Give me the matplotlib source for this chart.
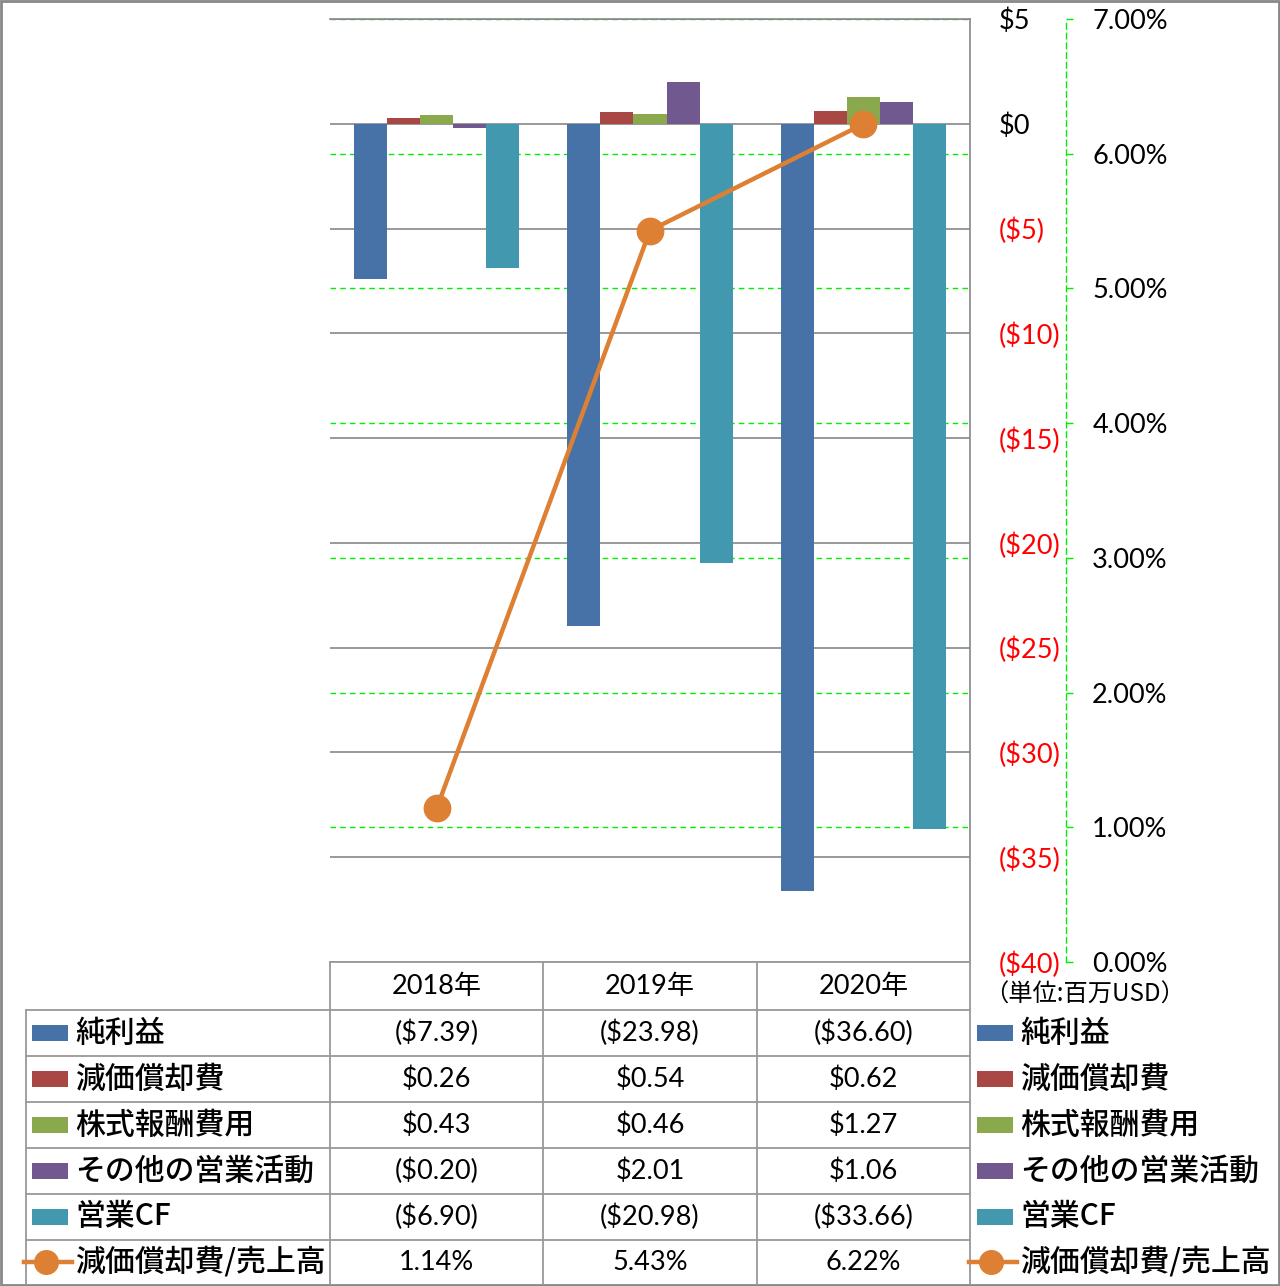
import matplotlib
matplotlib.use("Agg")
import matplotlib.pyplot as plt
import numpy as np
from matplotlib.lines import Line2D
from matplotlib.patches import Rectangle

# ---------------- data ----------------
years = ["2018年", "2019年", "2020年"]
series_names = ["純利益", "減価償却費", "株式報酬費用", "その他の営業活動", "営業CF"]
net_income = [-7.39, -23.98, -36.60]
depreciation = [0.26, 0.54, 0.62]
stock_comp = [0.43, 0.46, 1.27]
other_ops = [-0.20, 2.01, 1.06]
operating_cf = [-6.90, -20.98, -33.66]
ratio_name = "減価償却費/売上高"
dep_ratio = [1.14, 5.43, 6.22]
unit_label = "（単位:百万USD）"
usd_ticks = [5, 0, -5, -10, -15, -20, -25, -30, -35, -40]
pct_ticks = [0, 1, 2, 3, 4, 5, 6, 7]

bar_series = [net_income, depreciation, stock_comp, other_ops, operating_cf]
colors = ["#4672A8", "#A94744", "#8AA84C", "#71588F", "#4298AF"]
line_color = "#DD8033"

# ---------------- figure ----------------
W, H = 1280, 1286
fig = plt.figure(figsize=(W / 100, H / 100), dpi=100)
fig.patch.set_facecolor("white")
FONT = ["Lato", "Noto Sans CJK JP", "DejaVu Sans"]
JFONT = ["Noto Sans CJK JP", "DejaVu Sans"]
plt.rcParams["font.family"] = FONT
NUM_FS = 19.5
JP_FS = 21.5


def fx(x):
    return x / W


def fy(y):
    return 1 - y / H


# plot area
L, R, T, B = 330, 970, 19, 962
rect = [fx(L), fy(B), fx(R) - fx(L), fy(T) - fy(B)]
ax = fig.add_axes(rect)
ax_p = ax.twinx()
ax_p.set_zorder(ax.get_zorder() - 1)
ax.patch.set_visible(False)
ax_l = ax.twinx()

x = np.arange(len(years))
bw = 0.155
for i, (vals, c) in enumerate(zip(bar_series, colors)):
    ax.bar(x + (i - 2) * bw, vals, width=bw, color=c, zorder=3, linewidth=0)

ax.set_xlim(-0.5, len(years) - 0.5)
ax.set_ylim(-40, 5)
ax.yaxis.tick_right()
ax.tick_params(axis="y", length=0, pad=21, labelsize=NUM_FS)
ax.set_yticks(usd_ticks,
              labels=[f"${v}" if v >= 0 else f"(${-v})" for v in usd_ticks])
for lab, v in zip(ax.get_yticklabels(), usd_ticks):
    lab.set_color("black" if v >= 0 else "#FF0000")
ax.set_xticks([])
ax.grid(axis="y", color="#888888", linewidth=1.2)
ax.set_axisbelow(True)
for s in ["left", "bottom"]:
    ax.spines[s].set_visible(False)
for s in ["right", "top"]:
    ax.spines[s].set_color("#888888")
    ax.spines[s].set_linewidth(1.2)

# percent axis
ax_p.set_ylim(0, 7)
ax_p.set_yticks(pct_ticks, labels=[f"{v:.2f}%" for v in pct_ticks])
ax_p.tick_params(axis="y", direction="out", length=5, width=1, color="#00EE00",
                 pad=14, labelsize=NUM_FS)
ax_p.grid(axis="y", color="#00EE00", linewidth=1, linestyle=(0, (4, 3)))
for s in ["top", "left", "bottom"]:
    ax_p.spines[s].set_visible(False)
ax_p.spines["right"].set_position(("outward", 69))
ax_p.spines["right"].set_color("#00EE00")
ax_p.spines["right"].set_linestyle((0, (4, 3)))
ax_p.spines["right"].set_linewidth(1)
ax_p.set_xticks([])

# line axis
ax_l.set_ylim(0, 7)
ax_l.plot(x, dep_ratio, color=line_color, linewidth=3.2, marker="o",
          markersize=19, markerfacecolor=line_color, markeredgecolor=line_color,
          zorder=5, clip_on=False)
ax_l.set_axis_off()

# ---------------- data table ----------------
grid_c = "#999999"


def hline(y, x0, x1, lw=1.3, c=grid_c):
    fig.add_artist(Line2D([fx(x0), fx(x1)], [fy(y), fy(y)], color=c, lw=lw,
                          transform=fig.transFigure))


def vline(xp, y0, y1, lw=1.3, c=grid_c):
    fig.add_artist(Line2D([fx(xp), fx(xp)], [fy(y0), fy(y1)], color=c, lw=lw,
                          transform=fig.transFigure))


col_edges = [330, 543, 757, 970]
row_edges = [1010, 1056, 1102, 1148, 1194, 1240, 1284]
hline(962, 330, 970)
for y in row_edges[:-1]:
    hline(y, 26, 970)
for xe in col_edges:
    vline(xe, 962, 1284)
vline(26, 1010, 1284)

col_centers = [(col_edges[i] + col_edges[i + 1]) / 2 for i in range(3)]
for cx, yr in zip(col_centers, years):
    fig.text(fx(cx), fy(986), yr, ha="center", va="center", fontsize=NUM_FS,
             family=FONT)


def fmt_usd(v):
    return f"${v:.2f}" if v >= 0 else f"(${-v:.2f})"


row_centers = [(row_edges[i] + row_edges[i + 1]) / 2 for i in range(6)]
all_names = series_names + [ratio_name]
for r, (name, yc) in enumerate(zip(all_names, row_centers)):
    if r < 5:
        vals = [fmt_usd(v) for v in bar_series[r]]
    else:
        vals = [f"{v:.2f}%" for v in dep_ratio]
    for cx, s in zip(col_centers, vals):
        fig.text(fx(cx), fy(yc), s, ha="center", va="center", fontsize=NUM_FS,
                 family=FONT)
    # legend keys in table and at right
    for kx0, tx in [(32, 75), (977, 1020)]:
        if r < 5:
            fig.add_artist(Rectangle((fx(kx0), fy(yc + 8)), fx(36), 16 / H,
                                     color=colors[r], transform=fig.transFigure,
                                     lw=0))
        else:
            fig.add_artist(Line2D([fx(kx0 - 8), fx(kx0 + 40)], [fy(yc), fy(yc)],
                                  color=line_color, lw=3.2, marker=None,
                                  transform=fig.transFigure))
            fig.add_artist(Line2D([fx(kx0 + 14)], [fy(yc)], color=line_color,
                                  marker="o", markersize=17,
                                  transform=fig.transFigure))
        fig.text(fx(tx), fy(yc), name, ha="left", va="center", fontsize=JP_FS,
                 family=JFONT, fontweight="medium")

fig.text(fx(1085), fy(995), unit_label, ha="center", va="center", fontsize=17.5,
         family=JFONT)

# outer border
fig.add_artist(Rectangle((0.0008, 0.0008), 0.9984, 0.9984, fill=False,
                         edgecolor="#888888", lw=2, transform=fig.transFigure))

fig.savefig("out.png", dpi=100, facecolor="white")
